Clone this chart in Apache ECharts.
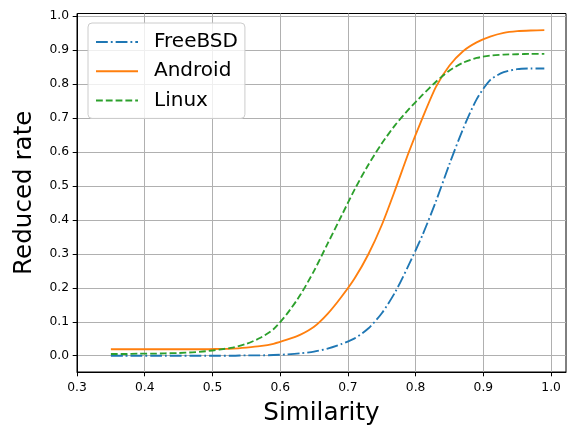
<!DOCTYPE html>
<html>
<head>
<meta charset="utf-8">
<script src="https://cdn.jsdelivr.net/npm/echarts@6/dist/echarts.min.js"></script>
<style>
html,body{margin:0;padding:0;background:#fff;}
#chart{width:569px;height:431px;}
</style>
</head>
<body>
<div id="chart"></div>
<script>
// ---- data ----
var similarity = [0.35,0.37,0.39,0.41,0.43,0.45,0.47,0.49,0.51,0.53,0.55,0.57,0.59,0.61,0.63,0.65,0.67,0.69,0.71,0.73,0.75,0.77,0.79,0.81,0.83,0.85,0.87,0.89,0.91,0.93,0.95,0.97,0.99];
var freebsd = [0.000,0.000,0.000,0.000,0.000,0.000,0.000,0.000,0.000,0.000,0.001,0.001,0.002,0.004,0.007,0.012,0.021,0.034,0.051,0.080,0.125,0.188,0.268,0.355,0.455,0.565,0.668,0.755,0.812,0.835,0.844,0.846,0.846];
var android = [0.019,0.019,0.019,0.019,0.019,0.019,0.019,0.019,0.020,0.021,0.024,0.028,0.035,0.047,0.062,0.085,0.123,0.172,0.228,0.298,0.385,0.490,0.600,0.700,0.792,0.855,0.897,0.923,0.940,0.951,0.956,0.958,0.959];
var linux = [0.005,0.005,0.006,0.006,0.007,0.008,0.010,0.013,0.018,0.024,0.035,0.052,0.078,0.123,0.180,0.250,0.330,0.410,0.490,0.562,0.625,0.680,0.726,0.768,0.807,0.840,0.863,0.877,0.884,0.887,0.888,0.889,0.889];
var seriesNames = ['FreeBSD','Android','Linux'];
var xTicks = [0.3,0.4,0.5,0.6,0.7,0.8,0.9,1.0];
var yTicks = [0.0,0.1,0.2,0.3,0.4,0.5,0.6,0.7,0.8,0.9,1.0];
var xLabel = 'Similarity';
var yLabel = 'Reduced rate';

function pairs(ys){ return similarity.map(function(x,i){ return [x, ys[i]]; }); }

var FONT = 'DejaVu Sans';
var chart = echarts.init(document.getElementById('chart'), null, {renderer:'canvas'});
var lw = 1.85;
function mkSeries(name, ys, color, type){
  return {
    name: name, type: 'line', data: pairs(ys), symbol: 'none', showSymbol: false,
    smooth: 0.25, animation: false,
    lineStyle: {color: color, width: lw, type: type, cap: 'butt', join: 'round'},
    itemStyle: {color: color}
  };
}
var axisCommon = {
  axisLine: {show: true, onZero: false, lineStyle: {color: '#000', width: 1}},
  axisTick: {show: true, length: 4.3, lineStyle: {color: '#000', width: 1}},
  splitLine: {show: true, lineStyle: {color: '#b0b0b0', width: 1}},
  nameTextStyle: {fontFamily: FONT, fontSize: 24.6, color: '#000'}
};
var option = {
  animation: false,
  backgroundColor: '#fff',
  grid: {left: 77, top: 13.5, width: 489, height: 363, show: true, borderColor: '#000', borderWidth: 1, backgroundColor: 'transparent'},
  xAxis: Object.assign({}, axisCommon, {
    type: 'value', min: 0.3, max: 1.022, minInterval: 0.1, maxInterval: 0.1,
    name: xLabel, nameLocation: 'middle', nameGap: 29,
    axisTick: Object.assign({}, axisCommon.axisTick, {customValues: xTicks}),
    axisLabel: {customValues: xTicks, margin: 10, fontFamily: FONT, fontSize: 12.3, color: '#000', formatter: function(v){return v.toFixed(1);}}
  }),
  yAxis: Object.assign({}, axisCommon, {
    type: 'value', min: -0.048, max: 1.008, minInterval: 0.1, maxInterval: 0.1,
    name: yLabel, nameLocation: 'middle', nameGap: 40,
    axisTick: Object.assign({}, axisCommon.axisTick, {customValues: yTicks}),
    axisLabel: {customValues: yTicks, margin: 8, fontFamily: FONT, fontSize: 12.3, color: '#000', formatter: function(v){return v.toFixed(1);}}
  }),
  legend: {
    orient: 'vertical', left: 88, top: 23,
    padding: [9, 7, 8, 7], itemGap: 9.2, itemWidth: 42, itemHeight: 20,
    backgroundColor: 'rgba(255,255,255,0.8)', borderColor: '#cccccc', borderWidth: 1, borderRadius: 4,
    itemStyle: {opacity: 0},
    textStyle: {fontFamily: FONT, fontSize: 20, color: '#000', padding: [0,0,0,11]},
    data: seriesNames
  },
  series: [
    mkSeries(seriesNames[0], freebsd, '#1f77b4', [11.8, 3, 1.85, 3]),
    mkSeries(seriesNames[1], android, '#ff7f0e', 'solid'),
    mkSeries(seriesNames[2], linux, '#2ca02c', [6.8, 3])
  ]
};
chart.setOption(option);
</script>
</body>
</html>
